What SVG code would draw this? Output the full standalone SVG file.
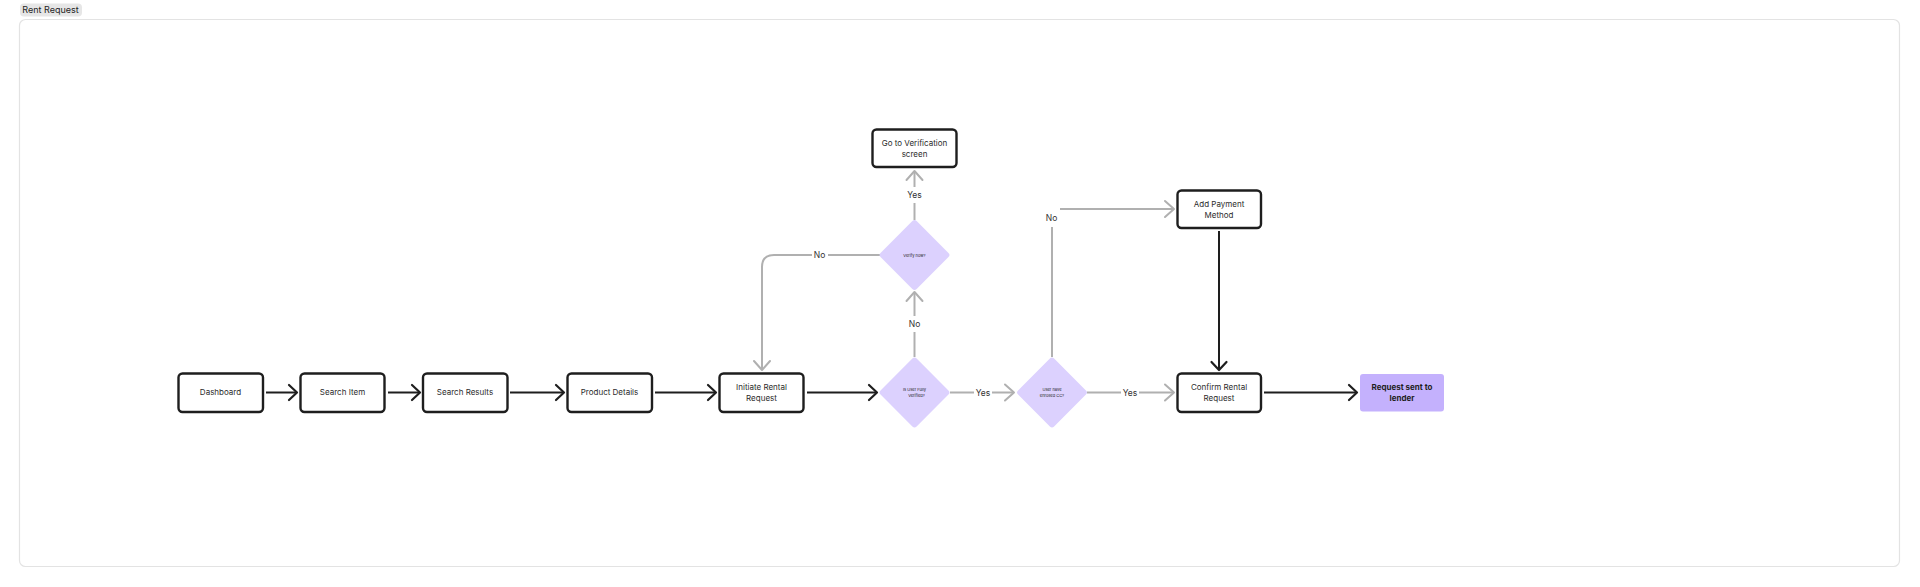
<svg xmlns="http://www.w3.org/2000/svg" width="1920" height="587" viewBox="0 0 1920 587">
<style>
  .box{fill:#ffffff;stroke:#1e1e1e;stroke-width:2.4}
  .fin{fill:#c4b1fd}
  .dia{fill:#dcd1fe}
  .t{font-family:Inter,"Liberation Sans",sans-serif;font-size:8px;fill:#2b2b2b;text-anchor:middle}
  .tb{font-family:Inter,"Liberation Sans",sans-serif;font-size:8px;font-weight:700;fill:#1e1e1e;text-anchor:middle}
  .ts{font-family:Inter,"Liberation Sans",sans-serif;font-size:4px;fill:#222;text-anchor:middle}
  .lbl{font-family:Inter,"Liberation Sans",sans-serif;font-size:8.5px;fill:#333;text-anchor:middle}
  .blk{fill:none;stroke:#1e1e1e;stroke-width:2;marker-end:url(#ab)}
  .gry{fill:none;stroke:#b0b0b0;stroke-width:2;marker-end:url(#ag)}
  .gl{fill:none;stroke:#b0b0b0;stroke-width:2}
  .bg{fill:#ffffff}
</style>
<defs>
  <marker id="ab" markerUnits="userSpaceOnUse" markerWidth="24" markerHeight="24" viewBox="-12 -12 24 24" refX="0" refY="0" orient="auto">
    <path d="M-8,-7.5 L0,0 L-8,7.5" fill="none" stroke="#1e1e1e" stroke-width="2.2" stroke-linecap="round" stroke-linejoin="round"/>
  </marker>
  <marker id="ag" markerUnits="userSpaceOnUse" markerWidth="24" markerHeight="24" viewBox="-12 -12 24 24" refX="0" refY="0" orient="auto">
    <path d="M-9,-8 L0,0 L-9,8" fill="none" stroke="#b0b0b0" stroke-width="2" stroke-linecap="round" stroke-linejoin="round"/>
  </marker>
</defs>
<rect width="1920" height="587" fill="#ffffff"/>
<g id="frame">
  <rect x="19.5" y="19.5" width="1880" height="547" rx="6" fill="#ffffff" stroke="#e3e3e3" stroke-width="1.2"/>
  <rect x="20" y="3.5" width="62" height="13" rx="4" fill="#e6e6e6"/>
  <text x="50.5" y="13.3" font-family="Inter,'Liberation Sans',sans-serif" font-size="9" fill="#1e1e1e" text-anchor="middle">Rent Request</text>
</g>
<g id="connectors">
  <path class="blk" d="M266,392.5 H297"/>
  <path class="blk" d="M388,392.5 H420"/>
  <path class="blk" d="M510,392.5 H564"/>
  <path class="blk" d="M655,392.5 H716"/>
  <path class="blk" d="M807,392.5 H877"/>
  <path class="blk" d="M1264,392.5 H1357"/>
  <path class="blk" d="M1219,231 V370"/>
  <path class="gry" d="M950,392.5 H1014"/>
  <path class="gry" d="M1087,392.5 H1174"/>
  <path class="gry" d="M914.5,357 V292"/>
  <path class="gry" d="M914.5,220 V171"/>
  <path class="gry" d="M880,255 H774 Q762,255 762,267 V370"/>
  <path class="gl" d="M1052,357 V227"/>
  <path class="gry" d="M1060,209 H1174"/>
  <rect class="bg" x="974" y="386" width="18" height="13"/>
  <text class="lbl" x="983" y="395.5">Yes</text>
  <rect class="bg" x="1121" y="386" width="18" height="13"/>
  <text class="lbl" x="1130" y="395.5">Yes</text>
  <rect class="bg" x="906" y="316" width="17" height="16"/>
  <text class="lbl" x="914.5" y="327">No</text>
  <rect class="bg" x="905" y="187" width="19" height="16"/>
  <text class="lbl" x="914.5" y="198">Yes</text>
  <rect class="bg" x="812" y="249" width="16" height="12"/>
  <text class="lbl" x="819.5" y="258">No</text>
  <text class="lbl" x="1051.5" y="221">No</text>
</g>
<g id="dashboard">
  <rect class="box" x="178.5" y="373.5" width="84.5" height="38.5" rx="4"/>
  <text class="t" x="220.5" y="395.3">Dashboard</text>
</g>
<g id="search-item">
  <rect class="box" x="300.5" y="373.5" width="84" height="38.5" rx="4"/>
  <text class="t" x="342.5" y="395.3">Search Item</text>
</g>
<g id="search-results">
  <rect class="box" x="423" y="373.5" width="84.5" height="38.5" rx="4"/>
  <text class="t" x="465" y="395.3">Search Results</text>
</g>
<g id="product-details">
  <rect class="box" x="567.5" y="373.5" width="84.5" height="38.5" rx="4"/>
  <text class="t" x="609.5" y="395.3">Product Details</text>
</g>
<g id="initiate-rental">
  <rect class="box" x="719.5" y="373.5" width="84" height="38.5" rx="4"/>
  <text class="t" x="761.5" y="389.5">Initiate Rental</text>
  <text class="t" x="761.5" y="401">Request</text>
</g>
<g id="user-verified">
  <rect class="dia" x="-25.5" y="-25.5" width="51" height="51" rx="3" transform="translate(914.5,392.5) rotate(45)"/>
  <text class="ts" x="914.5" y="390.5">Is User Fully</text>
  <text class="ts" x="916.5" y="396.5">Verified?</text>
</g>
<g id="verify-now">
  <rect class="dia" x="-25.5" y="-25.5" width="51" height="51" rx="3" transform="translate(914.5,255) rotate(45)"/>
  <text class="ts" x="914.5" y="256.5">Verify now?</text>
</g>
<g id="go-verification">
  <rect class="box" x="872.5" y="129.5" width="84" height="37.5" rx="4"/>
  <text class="t" x="914.5" y="145.5">Go to Verification</text>
  <text class="t" x="914.5" y="157">screen</text>
</g>
<g id="enrolled-cc">
  <rect class="dia" x="-25.5" y="-25.5" width="51" height="51" rx="3" transform="translate(1052,392.5) rotate(45)"/>
  <text class="ts" x="1052" y="390.5">User have</text>
  <text class="ts" x="1052" y="396.5">enrolled CC?</text>
</g>
<g id="add-payment">
  <rect class="box" x="1177.5" y="190.5" width="83.5" height="37.5" rx="4"/>
  <text class="t" x="1219" y="206.5">Add Payment</text>
  <text class="t" x="1219" y="218">Method</text>
</g>
<g id="confirm-rental">
  <rect class="box" x="1177.5" y="373.5" width="83.5" height="38.5" rx="4"/>
  <text class="t" x="1219" y="389.5">Confirm Rental</text>
  <text class="t" x="1219" y="401">Request</text>
</g>
<g id="request-sent">
  <rect class="fin" x="1360" y="374" width="84" height="37.5" rx="3"/>
  <text class="tb" x="1402" y="389.5">Request sent to</text>
  <text class="tb" x="1402" y="401">lender</text>
</g>
</svg>
